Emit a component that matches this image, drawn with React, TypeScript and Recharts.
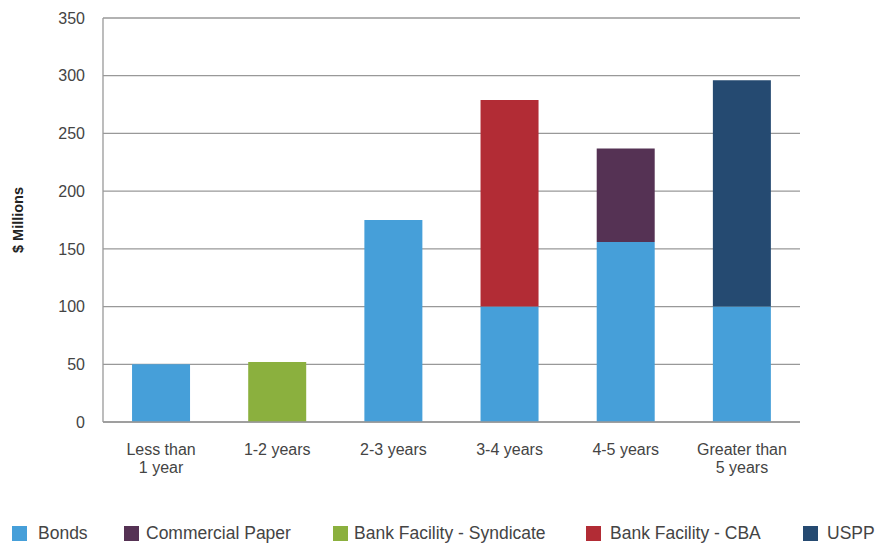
import React from "react";
import { BarChart, Bar, XAxis, YAxis, CartesianGrid, Legend } from "recharts";

const categories = ["Less than\n1 year", "1-2 years", "2-3 years", "3-4 years", "4-5 years", "Greater than\n5 years"];
const bonds = [50, 0, 175, 100, 156, 100];
const commercialPaper = [0, 0, 0, 0, 81, 0];
const syndicate = [0, 52, 0, 0, 0, 0];
const cba = [0, 0, 0, 179, 0, 0];
const uspp = [0, 0, 0, 0, 0, 196];
const yTicks = [0, 50, 100, 150, 200, 250, 300, 350];

const seriesList = [
  { key: "bonds", name: "Bonds", color: "#469fd9" },
  { key: "cp", name: "Commercial Paper", color: "#553254" },
  { key: "syn", name: "Bank Facility - Syndicate", color: "#8bb03e" },
  { key: "cba", name: "Bank Facility - CBA", color: "#b22c35" },
  { key: "uspp", name: "USPP", color: "#254a71" },
];

const legendSquareLeft = [12, 124, 333, 586, 803];
const legendTextLeft = [38, 146, 354, 610, 827];

const data = categories.map((c, i) => ({
  cat: c,
  bonds: bonds[i],
  cp: commercialPaper[i],
  syn: syndicate[i],
  cba: cba[i],
  uspp: uspp[i],
}));

const FONT = "'Liberation Sans', Arial, sans-serif";

const XTick = (props: any) => {
  const { x, y, payload } = props;
  const lines = String(payload.value).split("\n");
  return (
    <text x={x} y={y} textAnchor="middle" fill="#444" fontSize={16} fontFamily={FONT}>
      {lines.map((l, i) => (
        <tspan key={i} x={x} dy={i === 0 ? 25 : 18}>
          {l}
        </tspan>
      ))}
    </text>
  );
};

const LegendContent = () => (
  <div style={{ position: "relative", width: 877, height: 20, fontFamily: FONT, fontSize: 17.5, color: "#444" }}>
    {seriesList.map((s, i) => (
      <React.Fragment key={s.key}>
        <span
          style={{ position: "absolute", left: legendSquareLeft[i], top: 3, width: 15, height: 15, background: s.color }}
        />
        <span style={{ position: "absolute", left: legendTextLeft[i], top: 0, whiteSpace: "nowrap", lineHeight: "20px" }}>
          {s.name}
        </span>
      </React.Fragment>
    ))}
  </div>
);

export default function App() {
  return (
    <div style={{ position: "absolute", left: 0, top: 0, width: 877, height: 543, overflow: "hidden", background: "#fff" }}>
      <BarChart
        width={877}
        height={543}
        data={data}
        margin={{ top: 18, right: 77, left: 0, bottom: 0 }}
        barCategoryGap="25%"
      >
        <CartesianGrid vertical={false} stroke="#999" strokeWidth={1.3} />
        <XAxis
          dataKey="cat"
          tickLine={false}
          axisLine={{ stroke: "#999", strokeWidth: 1.3 }}
          tick={<XTick />}
          height={101}
          interval={0}
        />
        <YAxis
          domain={[0, 350]}
          ticks={yTicks}
          width={103}
          tickLine={false}
          axisLine={{ stroke: "#999", strokeWidth: 1.3 }}
          tick={{ fill: "#444", fontSize: 16, fontFamily: FONT }}
          tickMargin={12}
          label={{
            value: "$ Millions",
            angle: -90,
            position: "insideLeft",
            offset: 18,
            style: { fill: "#222", fontSize: 14.5, fontWeight: "bold", fontFamily: FONT, textAnchor: "middle" },
          }}
        />
        <Legend
          content={<LegendContent />}
          wrapperStyle={{ position: "absolute", left: 0, top: 523, width: 877 }}
        />
        {seriesList.map((s) => (
          <Bar key={s.key} dataKey={s.key} name={s.name} stackId="a" fill={s.color} isAnimationActive={false} />
        ))}
      </BarChart>
    </div>
  );
}
